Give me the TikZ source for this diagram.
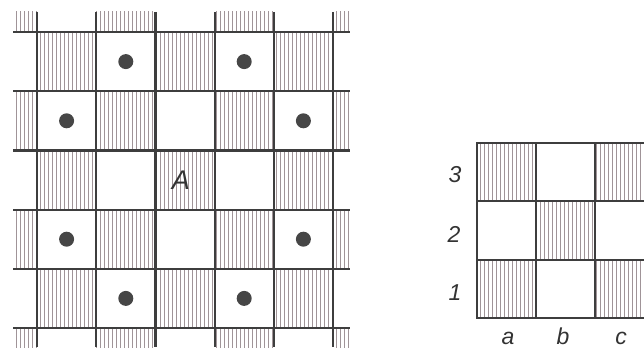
\documentclass[tikz,border=0pt]{standalone}
\usepackage{fontspec}
\setmainfont{Liberation Sans}
\definecolor{hatchc}{RGB}{160,148,152}
\definecolor{gridc}{RGB}{62,62,62}
\definecolor{dotc}{RGB}{70,70,70}
\tikzset{
  hatchline/.style={draw=hatchc, line width=0.9pt},
  gridline/.style={draw=gridc, line width=2.2pt},
  dotmark/.style={fill=dotc},
  lab/.style={font=\fontsize{23}{27}\selectfont\itshape, text=black!80, inner sep=0pt, anchor=base},
}
\begin{document}
\begin{tikzpicture}[x=1pt,y=-1pt]
\useasboundingbox (0,0) rectangle (644,350);
% ---------- left board ----------
\begin{scope}
  \clip (13,12) rectangle (350,347);
  \foreach \i in {-1,...,5}{
    \foreach \j in {-1,...,5}{
      \pgfmathtruncatemacro\pp{mod(\i+\j+20,2)}
      \ifnum\pp=0
        \begin{scope}
          \clip (37+59.2*\i,32+59.2*\j) rectangle ++(59.2,59.2);
          \pgfmathtruncatemacro\kk{floor((37+59.2*\i)/4)}
          \foreach \k in {0,...,16}
            \draw[hatchline] (4*\kk+0.5+4*\k,32+59.2*\j) -- ++(0,59.2);
        \end{scope}
      \fi
    }
  }
\end{scope}
\foreach \i in {0,...,5}
  \draw[gridline] (37+59.2*\i,12) -- (37+59.2*\i,347);
\foreach \j in {0,...,5}
  \draw[gridline] (13,32+59.2*\j) -- (350,32+59.2*\j);
\foreach \i/\j in {1/0,3/0,0/1,4/1,0/3,4/3,1/4,3/4}
  \fill[dotmark] (37+59.2*\i+29.6,32+59.2*\j+29.6) circle (7.5);
\node[lab, font=\fontsize{27}{31}\selectfont\itshape] (labA) at (181,189) {A};
% ---------- right board ----------
\begin{scope}
  \clip (0,0) rectangle (644,350);
  \foreach \i in {0,...,2}{
    \foreach \j in {0,...,2}{
      \pgfmathtruncatemacro\pp{mod(\i+\j,2)}
      \ifnum\pp=0
        \begin{scope}
          \clip (477+59*\i,143+58.33*\j) rectangle ++(59,58.33);
          \pgfmathtruncatemacro\kk{floor((477+59*\i)/4)}
          \foreach \k in {0,...,16}
            \draw[hatchline] (4*\kk+0.5+4*\k,143+58.33*\j) -- ++(0,58.33);
        \end{scope}
      \fi
    }
  }
  \foreach \i in {0,...,2}
    \draw[gridline, line width=2pt] (477+59*\i,143) -- (477+59*\i,318);
  \foreach \j in {0,...,3}
    \draw[gridline, line width=2pt] (476,143+58.33*\j) -- (660,143+58.33*\j);
\end{scope}
\node[lab] (r3) at (455,182) {3};
\node[lab] (r2) at (454,242) {2};
\node[lab] (r1) at (455,300) {1};
\node[lab] (ca) at (508,344) {a};
\node[lab] (cb) at (563,344) {b};
\node[lab] (cc) at (621,344) {c};
\end{tikzpicture}
\end{document}
